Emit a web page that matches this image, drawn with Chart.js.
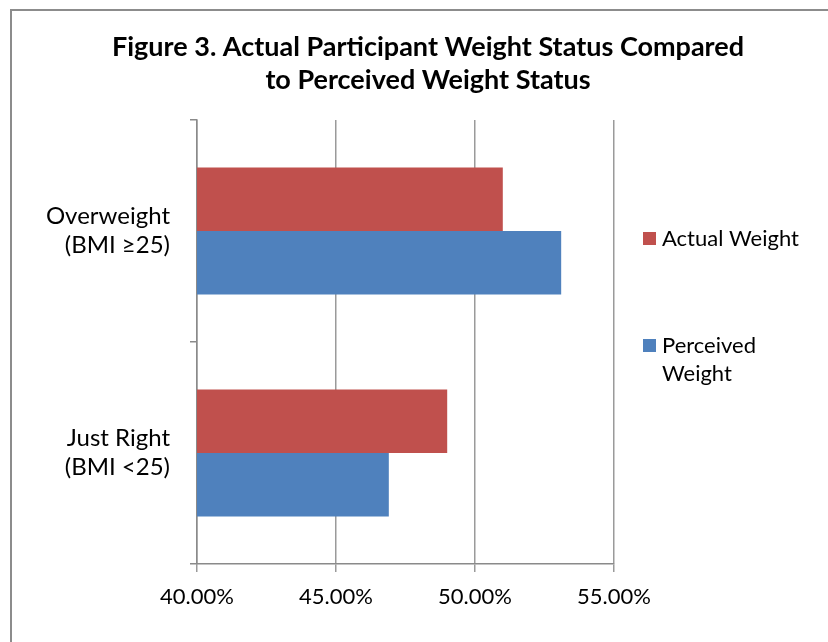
<!DOCTYPE html>
<html>
<head>
<meta charset="utf-8">
<title>Figure 3. Actual Participant Weight Status Compared to Perceived Weight Status</title>
<script src="https://cdn.jsdelivr.net/npm/chart.js@4/dist/chart.umd.min.js"></script>
<style>
  html, body { margin: 0; padding: 0; background: #ffffff; }
  #wrap { position: relative; width: 828px; height: 642px; overflow: hidden; }
  #frame { position: absolute; left: 10px; top: 9px; width: 900px; height: 700px;
           border-left: 2px solid #8c8c8c; border-top: 2px solid #8c8c8c; pointer-events: none; }
  canvas { position: absolute; left: 0; top: 0; }
</style>
</head>
<body>
<div id="wrap">
  <canvas id="chart" width="828" height="642"></canvas>
  <div id="frame"></div>
</div>
<script>
// Weight status categories (top to bottom)
const categories = [
  ['Overweight', '(BMI \u226525)'],
  ['Just Right', '(BMI <25)']
];
// Percent of participants in each category
const actualWeight = [51.0, 49.0];
const perceivedWeight = [53.1, 46.9];
const seriesNames = ['Actual Weight', ['Perceived', 'Weight']];
const titleLines = ['Figure 3. Actual Participant Weight Status Compared', 'to Perceived Weight Status'];
const axisMin = 40, axisMax = 55, axisStep = 5;

const FONT = 'Lato, "Open Sans", "Liberation Sans", sans-serif';
const RED = '#C0504D';
const BLUE = '#4F81BD';

// Title and right-hand legend drawn on the canvas
const decorations = {
  id: 'decorations',
  afterDraw(chart) {
    const ctx = chart.ctx;
    ctx.save();
    ctx.fillStyle = '#000000';
    ctx.textAlign = 'center';
    ctx.textBaseline = 'middle';
    ctx.font = 'bold 27px ' + FONT;
    ctx.fillText(titleLines[0], 428, 47);
    ctx.fillText(titleLines[1], 428, 80);

    ctx.font = '22px ' + FONT;
    ctx.textAlign = 'left';
    const items = [
      { y: 239, ds: chart.data.datasets[0] },
      { y: 346, ds: chart.data.datasets[1] }
    ];
    items.forEach(it => {
      ctx.fillStyle = it.ds.backgroundColor;
      ctx.fillRect(643, it.y - 7, 13, 13);
      ctx.fillStyle = '#000000';
      const lines = Array.isArray(it.ds.legendText) ? it.ds.legendText : [it.ds.legendText];
      lines.forEach((t, i) => ctx.fillText(t, 662, it.y + i * 28));
    });
    ctx.restore();
  }
};

new Chart(document.getElementById('chart'), {
  type: 'bar',
  data: {
    labels: categories,
    datasets: [
      { label: 'Actual Weight', legendText: seriesNames[0], data: actualWeight,
        backgroundColor: RED, borderWidth: 0 },
      { label: 'Perceived Weight', legendText: seriesNames[1], data: perceivedWeight,
        backgroundColor: BLUE, borderWidth: 0 }
    ]
  },
  options: {
    indexAxis: 'y',
    responsive: false,
    animation: false,
    devicePixelRatio: 1,
    categoryPercentage: 0.571,
    barPercentage: 1.0,
    layout: { padding: { left: 0, top: 120, right: 214, bottom: 0 } },
    plugins: {
      legend: { display: false },
      title: { display: false },
      tooltip: { enabled: false }
    },
    scales: {
      x: {
        min: axisMin,
        max: axisMax,
        afterFit(scale) { scale.height = 78; },
        ticks: {
          stepSize: axisStep,
          padding: 12,
          color: '#000000',
          font: { family: FONT, size: 22 },
          callback: v => v.toFixed(2) + '%'
        },
        grid: { color: '#9a9a9a', lineWidth: 1.5, tickLength: 8, drawTicks: true },
        border: { color: '#8a8a8a', width: 1.5 }
      },
      y: {
        afterFit(scale) { scale.width = 197; },
        ticks: {
          padding: 20,
          color: '#000000',
          font: { family: FONT, size: 24, lineHeight: 1.22 }
        },
        grid: { drawOnChartArea: false, color: '#8a8a8a', lineWidth: 1.5, tickLength: 7, offset: true },
        border: { color: '#8a8a8a', width: 1.5 }
      }
    }
  },
  plugins: [decorations]
});
</script>
</body>
</html>
